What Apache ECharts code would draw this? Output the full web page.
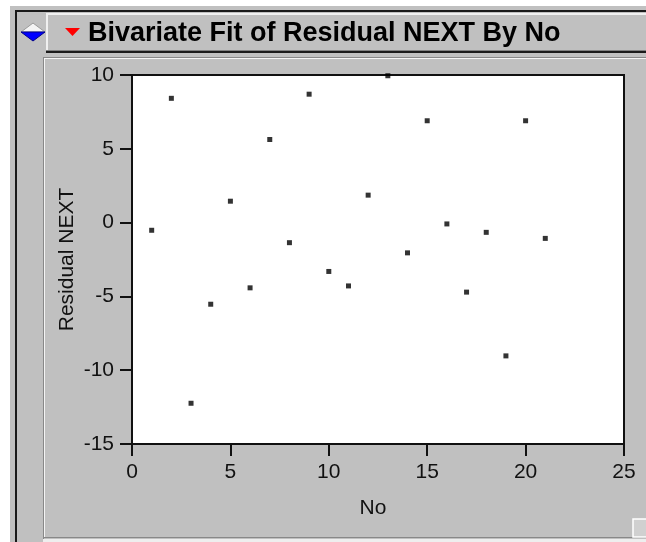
<!DOCTYPE html>
<html>
<head>
<meta charset="utf-8">
<script src="https://cdn.jsdelivr.net/npm/echarts@6/dist/echarts.min.js"></script>
<style>
html,body{margin:0;padding:0;background:#fff;}
#c{width:646px;height:542px;}
</style>
</head>
<body>
<div id="c"></div>
<script>
const titleText = "Bivariate Fit of Residual NEXT By No";
const xName = "No";
const yName = "Residual NEXT";
const no = [1,2,3,4,5,6,7,8,9,10,11,12,13,14,15,16,17,18,19,20,21];
const residualNext = [-0.52,8.42,-12.24,-5.53,1.45,-4.42,5.63,-1.36,8.7,-3.31,-4.29,1.86,9.95,-2.05,6.9,-0.09,-4.71,-0.66,-9.03,6.9,-1.07];
const xTicks = [0,5,10,15,20,25];
const yTicks = [-15,-10,-5,0,5,10];

const chart = echarts.init(document.getElementById('c'), null, {renderer:'canvas'});
const grey = '#c0c0c0';
const font = '"Liberation Sans", Arial, sans-serif';

const graphics = [
  {type:'rect', shape:{x:10,y:6,width:636,height:536}, style:{fill:grey}, z:-10},
  // outer frame dark lines
  {type:'rect', shape:{x:15,y:10,width:2,height:532}, style:{fill:'#1a1a1a'}, z:-9},
  {type:'rect', shape:{x:15,y:10,width:631,height:2}, style:{fill:'#1a1a1a'}, z:-9},
  // title button
  {type:'rect', shape:{x:46,y:13,width:600,height:40}, style:{fill:grey}, z:-8},
  {type:'rect', shape:{x:46,y:13,width:600,height:2}, style:{fill:'#f0f0f0'}, z:-7},
  {type:'rect', shape:{x:46,y:13,width:2,height:40}, style:{fill:'#f0f0f0'}, z:-7},
  {type:'rect', shape:{x:46,y:50,width:600,height:1}, style:{fill:'#808080'}, z:-7},
  {type:'rect', shape:{x:46,y:51,width:600,height:2}, style:{fill:'#1a1a1a'}, z:-7},
  // inner panel
  {type:'rect', shape:{x:43,y:57,width:603,height:1}, style:{fill:'#888'}, z:-7},
  {type:'rect', shape:{x:44,y:58,width:602,height:1}, style:{fill:'#f4f4f4'}, z:-7},
  {type:'rect', shape:{x:43,y:57,width:1,height:482}, style:{fill:'#888'}, z:-7},
  {type:'rect', shape:{x:44,y:58,width:1,height:480}, style:{fill:'#f4f4f4'}, z:-7},
  {type:'rect', shape:{x:43,y:537,width:603,height:1}, style:{fill:'#888'}, z:-7},
  {type:'rect', shape:{x:43,y:539,width:603,height:3}, style:{fill:'#eeeeee'}, z:-7},
  // resize handle
  {type:'rect', shape:{x:633,y:519,width:14,height:18}, style:{fill:'#d0d0d0', stroke:'#ffffff', lineWidth:1.5}, z:-6},
  // blue diamond
  {type:'polygon', shape:{points:[[21,32],[33,23],[45,32]]}, style:{fill:'#f4f4f4', stroke:'#9a9a9a', lineWidth:1}, z:-5},
  {type:'polygon', shape:{points:[[21,32],[45,32],[33,41]]}, style:{fill:'#0000ff', stroke:'#00008a', lineWidth:1}, z:-5},
  // red triangle
  {type:'polygon', shape:{points:[[65,28],[80,28],[72.5,36]]}, style:{fill:'#ff0000'}, z:-5},
  {type:'text', x:88, y:34, style:{text:titleText, font:'bold 27px ' + font, fill:'#000', textVerticalAlign:'middle', textAlign:'left'}, z:-4}
];

chart.setOption({
  animation:false,
  backgroundColor:'#ffffff',
  graphic:graphics,
  grid:{left:132, top:75, width:492, height:369, show:true, backgroundColor:'#ffffff', borderColor:'#111', borderWidth:2},
  xAxis:{
    type:'value', min:xTicks[0], max:xTicks[xTicks.length-1], interval:5,
    name:xName, nameLocation:'middle', nameGap:54,
    nameTextStyle:{fontFamily:font, fontSize:21, color:'#111', padding:[0,10,0,0]},
    axisLine:{show:true, onZero:false, lineStyle:{color:'#111', width:2}},
    axisTick:{show:true, inside:false, length:12, lineStyle:{color:'#111', width:2}},
    axisLabel:{fontFamily:font, fontSize:21, color:'#111', margin:18},
    splitLine:{show:false}
  },
  yAxis:{
    type:'value', min:yTicks[0], max:yTicks[yTicks.length-1], interval:5,
    name:yName, nameLocation:'middle', nameGap:54, nameRotate:90, nameMoveOverlap:false,
    nameTextStyle:{fontFamily:font, fontSize:21, color:'#111'},
    axisLine:{show:true, onZero:false, lineStyle:{color:'#111', width:2}},
    axisTick:{show:true, inside:false, length:12, lineStyle:{color:'#111', width:2}},
    axisLabel:{fontFamily:font, fontSize:21, color:'#111', margin:18},
    splitLine:{show:false}
  },
  series:[{
    type:'scatter',
    data:no.map((n,i)=>[n, residualNext[i]]),
    symbol:'rect', symbolSize:5,
    itemStyle:{color:'#000'},
    clip:false
  }]
});
</script>
</body>
</html>
